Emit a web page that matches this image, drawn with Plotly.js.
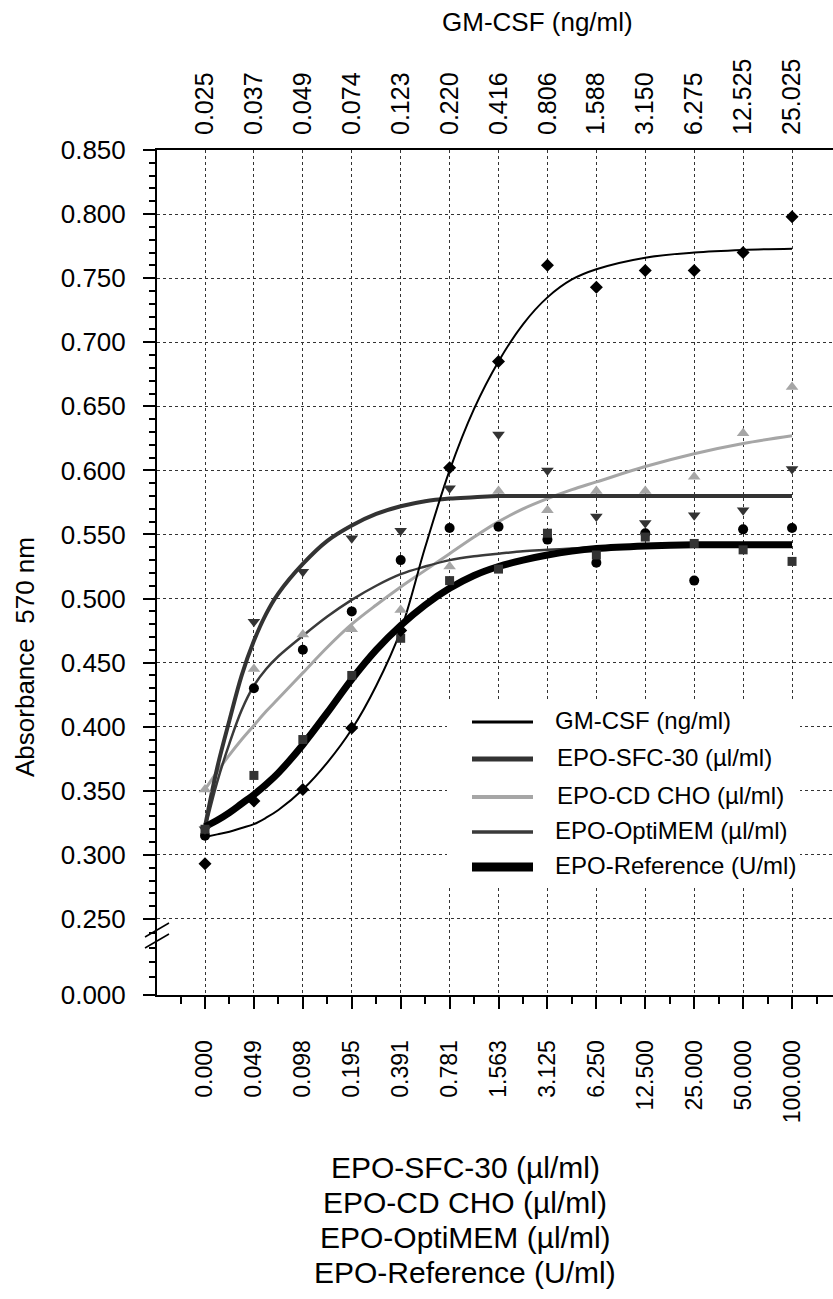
<!DOCTYPE html>
<html>
<head>
<meta charset="utf-8">
<script src="https://cdn.plot.ly/plotly-3.0.1.min.js"></script>
<style>
html,body{margin:0;padding:0;background:#fff;}
#chart{width:833px;height:1299px;}
</style>
</head>
<body>
<div id="chart"></div>
<script>
// ---------- DATA ----------
const categories = [0,1,2,3,4,5,6,7,8,9,10,11,12];
const epoLabels = ['0.000','0.049','0.098','0.195','0.391','0.781','1.563','3.125','6.250','12.500','25.000','50.000','100.000'];
const gmLabels  = ['0.025','0.037','0.049','0.074','0.123','0.220','0.416','0.806','1.588','3.150','6.275','12.525','25.025'];
const seriesNames = ['GM-CSF (ng/ml)','EPO-SFC-30 (\u00b5l/ml)','EPO-CD CHO (\u00b5l/ml)','EPO-OptiMEM (\u00b5l/ml)','EPO-Reference (U/ml)'];

// measured points
const gmcsfPoints     = [0.293,0.342,0.351,0.399,0.475,0.602,0.685,0.760,0.743,0.756,0.756,0.770,0.798];
const sfc30Points     = [0.320,0.482,0.521,0.547,0.553,0.586,0.628,0.600,0.564,0.559,0.565,0.569,0.601];
const cdchoPoints     = [0.351,0.445,0.472,0.476,0.491,0.525,0.584,0.569,0.584,0.584,0.595,0.629,0.665];
const optimemPoints   = [0.315,0.430,0.460,0.490,0.530,0.555,0.556,0.546,0.528,0.551,0.514,0.554,0.555];
const referencePoints = [0.320,0.362,0.390,0.440,0.469,0.514,0.523,0.551,0.534,0.548,0.543,0.538,0.529];

// fitted curves
const curveX         = [0,0.25,0.5,0.75,1,1.25,1.5,2,2.5,3,3.5,4,4.5,5,5.5,6,6.5,7,7.5,8,9,10,11,12];
const gmcsfCurve     = [0.314,0.316,0.318,0.321,0.324,0.329,0.335,0.351,0.372,0.398,0.432,0.475,0.540,0.600,0.648,0.685,0.714,0.735,0.749,0.757,0.766,0.770,0.772,0.773];
const sfc30Curve     = [0.322,0.368,0.405,0.440,0.467,0.488,0.504,0.527,0.545,0.557,0.566,0.572,0.576,0.578,0.579,0.580,0.580,0.580,0.580,0.580,0.580,0.580,0.580,0.580];
const cdchoCurve     = [0.351,0.365,0.378,0.390,0.401,0.412,0.422,0.442,0.462,0.480,0.495,0.509,0.522,0.535,0.548,0.560,0.570,0.578,0.585,0.591,0.603,0.613,0.621,0.627];
const optimemCurve   = [0.320,0.357,0.387,0.413,0.432,0.445,0.455,0.471,0.486,0.499,0.510,0.519,0.525,0.530,0.533,0.535,0.537,0.538,0.539,0.540,0.541,0.541,0.541,0.541];
const referenceCurve = [0.322,0.327,0.333,0.340,0.347,0.355,0.364,0.386,0.411,0.437,0.460,0.479,0.495,0.508,0.518,0.525,0.530,0.534,0.537,0.539,0.541,0.542,0.542,0.542];

const yTickValues = [0.25,0.30,0.35,0.40,0.45,0.50,0.55,0.60,0.65,0.70,0.75,0.80,0.85];

// ---------- LAYOUT HELPERS ----------
const W = 833, H = 1299;
const L = 157, R = 833, T = 150, B = 995;
const pxPerUnit = 1281;                       // pixels per absorbance unit
const yZeroPos = 0.25 - 76 / pxPerUnit;       // where the broken axis puts "0.000"
const xMin = (L - 205) / 48.92, xMax = (R - 205) / 48.92;
function px(x){ return (x - L) / (R - L); }
function py(y){ return (B - y) / (B - T); }

const FONT = 'Liberation Sans, Arial, Helvetica, sans-serif';

const styles = [
  {color:'#000000', width:2,   lw:3,   marker:{symbol:'diamond', size:10, color:'#000000'}},
  {color:'#333333', width:4,   lw:5,   marker:{symbol:'triangle-down', size:11, color:'#333333'}},
  {color:'#a6a6a6', width:3,   lw:4,   marker:{symbol:'triangle-up', size:11, color:'#a6a6a6'}},
  {color:'#3a3a3a', width:2.5, lw:3.5, marker:{symbol:'circle', size:10, color:'#000000'}},
  {color:'#000000', width:7,   lw:9,   marker:{symbol:'square', size:9, color:'#333333'}}
];
const curves = [gmcsfCurve, sfc30Curve, cdchoCurve, optimemCurve, referenceCurve];
const points = [gmcsfPoints, sfc30Points, cdchoPoints, optimemPoints, referencePoints];

const traces = [];
const drawOrder = [2,3,1,4,0];
drawOrder.forEach(i => {
  traces.push({
    type:'scatter', mode:'lines', name:seriesNames[i], x:curveX, y:curves[i],
    line:{color:styles[i].color, width:styles[i].width, shape:'spline', smoothing:1},
    showlegend:false, hoverinfo:'skip'
  });
});
drawOrder.forEach(i => {
  traces.push({
    type:'scatter', mode:'markers', name:seriesNames[i], x:categories, y:points[i],
    marker:styles[i].marker, showlegend:false
  });
});
// invisible trace to anchor the top axis
traces.push({type:'scatter', mode:'markers', x:categories, y:gmcsfPoints, xaxis:'x2',
  marker:{opacity:0}, showlegend:false, hoverinfo:'skip'});

// y axis ticks
const yTickVals = [yZeroPos].concat(yTickValues);
const yTickText = ['0.000'].concat(yTickValues.map(v => v.toFixed(3)));
const yMinor = [];
for (let v = 0.26; v < 0.85; v += 0.01) {
  if (Math.abs(Math.round(v*100) % 5) !== 0) yMinor.push(+v.toFixed(2));
}
[14, 29.5, 43, 58].forEach(d => yMinor.push(0.25 - d / pxPerUnit));

const xMinor = [];
for (let k = -0.5; k < xMax; k += 1) xMinor.push(k);

const shapes = [];
const annotations = [];

// axis break marks
shapes.push({type:'line', xref:'paper', yref:'paper', x0:px(145), y0:py(937), x1:px(169), y1:py(923), line:{color:'#000', width:1.5}});
shapes.push({type:'line', xref:'paper', yref:'paper', x0:px(145), y0:py(948), x1:px(169), y1:py(934), line:{color:'#000', width:1.5}});

// legend box (drawn by hand to match the long sample lines)
shapes.push({type:'rect', xref:'paper', yref:'paper', x0:px(447), x1:px(800), y0:py(888), y1:py(700),
  fillcolor:'#ffffff', line:{width:0}, layer:'above'});
const legendY = [720, 757, 795, 830, 865];
const legendTextX = [553, 555, 555, 553, 553];
seriesNames.forEach((n, i) => {
  shapes.push({type:'line', xref:'paper', yref:'paper', x0:px(472), x1:px(533), y0:py(legendY[i]+2), y1:py(legendY[i]+2),
    line:{color:styles[i].color, width:styles[i].lw}, layer:'above'});
  annotations.push({xref:'paper', yref:'paper', x:px(legendTextX[i]), y:py(legendY[i]), xanchor:'left', yanchor:'middle',
    text:n, showarrow:false, font:{family:FONT, size:24, color:'#000'}});
});

// titles
annotations.push({xref:'paper', yref:'paper', x:px(537), y:py(22), xanchor:'center', yanchor:'middle',
  text:'GM-CSF (ng/ml)', showarrow:false, font:{family:FONT, size:26, color:'#000'}});
annotations.push({xref:'paper', yref:'paper', x:px(25), y:py(657), xanchor:'center', yanchor:'middle', textangle:-90,
  text:'Absorbance\u00a0\u00a0570 nm', showarrow:false, font:{family:FONT, size:26, color:'#000'}});
const bottomTitleY = [1167, 1202, 1237, 1272];
seriesNames.slice(1).forEach((n, i) => {
  annotations.push({xref:'paper', yref:'paper', x:px(465), y:py(bottomTitleY[i]), xanchor:'center', yanchor:'middle',
    text:n, showarrow:false, font:{family:FONT, size:30, color:'#000'}});
});

const layout = {
  width:W, height:H,
  margin:{l:L, r:W-R, t:T, b:H-B, pad:0},
  paper_bgcolor:'#ffffff', plot_bgcolor:'#ffffff',
  showlegend:false,
  font:{family:FONT, color:'#000'},
  xaxis:{
    range:[xMin, xMax], tickmode:'array', tickvals:categories, ticktext:epoLabels, tickangle:-90,
    tickfont:{family:FONT, size:23, color:'#000'},
    ticks:'outside', ticklen:12, tickwidth:2, tickcolor:'#000', ticklabelstandoff:22,
    showline:true, linecolor:'#000', linewidth:2,
    showgrid:true, gridcolor:'#333', gridwidth:1, griddash:'dot',
    zeroline:false,
    minor:{tickmode:'array', tickvals:xMinor, ticks:'outside', ticklen:7, tickwidth:2, tickcolor:'#000', showgrid:false}
  },
  xaxis2:{
    overlaying:'x', side:'top', anchor:'y',
    range:[xMin, xMax], tickmode:'array', tickvals:categories, ticktext:gmLabels, tickangle:-90,
    tickfont:{family:FONT, size:25, color:'#000'},
    ticks:'', ticklabelstandoff:8,
    showline:true, linecolor:'#000', linewidth:2,
    showgrid:false, zeroline:false
  },
  yaxis:{
    range:[yZeroPos, 0.85], tickmode:'array', tickvals:yTickVals, ticktext:yTickText,
    tickfont:{family:FONT, size:26, color:'#000'},
    ticks:'outside', ticklen:12, tickwidth:2, tickcolor:'#000', ticklabelstandoff:12,
    showline:true, linecolor:'#000', linewidth:2,
    showgrid:true, gridcolor:'#333', gridwidth:1, griddash:'dot',
    zeroline:false,
    minor:{tickmode:'array', tickvals:yMinor, ticks:'outside', ticklen:6, tickwidth:2, tickcolor:'#000', showgrid:false}
  },
  shapes:shapes,
  annotations:annotations
};

Plotly.newPlot('chart', traces, layout, {staticPlot:true, displayModeBar:false});
</script>
</body>
</html>
